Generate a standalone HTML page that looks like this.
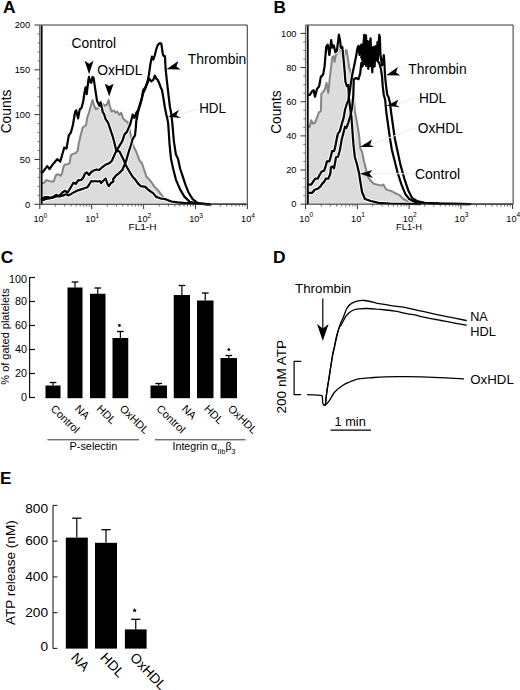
<!DOCTYPE html>
<html><head><meta charset="utf-8"><style>
html,body{margin:0;padding:0;background:#fff;}
svg{display:block;}
text{font-family:"Liberation Sans",sans-serif;}
</style></head><body>
<svg width="520" height="690" viewBox="0 0 520 690">
<rect width="520" height="690" fill="#fff"/>
<polygon points="40.5,204.3 41.8,183.0 43.8,183.1 44.8,181.8 46.6,180.0 48.9,180.9 51.2,181.6 53.5,181.4 54.9,178.2 55.8,175.4 57.7,174.2 59.5,174.9 60.9,175.8 62.3,172.6 63.1,168.0 64.6,164.6 66.9,164.6 69.6,163.1 70.8,155.4 72.3,154.2 75.4,153.1 77.7,150.8 78.5,144.6 79.6,140.0 80.5,136.0 82.6,127.7 86.1,125.0 87.3,117.3 89.0,112.7 90.8,105.8 92.5,100.0 94.2,105.8 96.0,109.2 98.3,108.1 100.6,102.3 102.3,103.5 104.6,105.8 106.9,104.6 108.6,100.0 109.8,105.8 111.5,111.5 113.8,110.4 115.6,112.7 117.3,111.5 119.6,115.0 121.3,112.7 123.1,118.4 125.4,120.8 127.7,121.9 129.0,126.0 130.4,133.1 132.7,144.6 136.2,151.5 139.6,160.7 141.9,163.0 144.2,170.0 146.5,176.9 148.5,178.5 151.5,182.3 154.6,186.9 157.7,190.0 160.8,193.8 163.1,196.9 165.4,198.9 171.5,201.5 180.0,203.0 200.0,203.8 246.0,204.0 246.0,204.3" fill="#dcdcdc" />
<line x1="40" y1="25" x2="247.3" y2="25" stroke="#7a7a7a" stroke-width="1.3"/>
<line x1="247.3" y1="25" x2="247.3" y2="204.3" stroke="#444" stroke-width="1.1"/>
<polyline points="41.8,183.0 43.8,183.1 44.8,181.8 46.6,180.0 48.9,180.9 51.2,181.6 53.5,181.4 54.9,178.2 55.8,175.4 57.7,174.2 59.5,174.9 60.9,175.8 62.3,172.6 63.1,168.0 64.6,164.6 66.9,164.6 69.6,163.1 70.8,155.4 72.3,154.2 75.4,153.1 77.7,150.8 78.5,144.6 79.6,140.0 80.5,136.0 82.6,127.7 86.1,125.0 87.3,117.3 89.0,112.7 90.8,105.8 92.5,100.0 94.2,105.8 96.0,109.2 98.3,108.1 100.6,102.3 102.3,103.5 104.6,105.8 106.9,104.6 108.6,100.0 109.8,105.8 111.5,111.5 113.8,110.4 115.6,112.7 117.3,111.5 119.6,115.0 121.3,112.7 123.1,118.4 125.4,120.8 127.7,121.9 129.0,126.0 130.4,133.1 132.7,144.6 136.2,151.5 139.6,160.7 141.9,163.0 144.2,170.0 146.5,176.9 148.5,178.5 151.5,182.3 154.6,186.9 157.7,190.0 160.8,193.8 163.1,196.9 165.4,198.9 171.5,201.5 180.0,203.0 200.0,203.8 246.0,204.0" fill="none" stroke="#858585" stroke-width="2" stroke-linejoin="round" stroke-linecap="round" />
<polyline points="41.8,199.5 43.5,200.0 45.8,198.8 49.2,198.3 52.7,197.7 56.1,196.5 59.6,196.5 63.1,195.4 66.0,194.2 68.8,195.4 71.7,193.6 74.6,191.9 76.9,190.8 80.4,189.6 83.8,188.5 87.3,187.3 89.6,183.8 91.3,181.0 93.1,181.5 95.4,181.0 97.7,181.5 100.0,181.0 101.1,183.1 103.0,181.0 105.7,178.5 107.5,184.0 108.8,186.2 111.0,183.0 113.4,181.5 113.1,179.2 116.0,175.5 118.8,173.4 122.3,170.0 125.8,161.9 129.2,150.4 131.0,145.0 132.7,138.8 135.0,135.4 135.8,128.0 136.2,121.5 137.5,115.0 138.5,110.0 140.3,104.6 143.2,93.0 145.4,88.6 147.5,81.4 149.0,74.1 150.4,64.0 151.9,56.7 153.3,59.6 154.8,55.3 156.2,49.5 157.7,45.1 159.9,43.0 161.3,43.7 162.8,53.8 163.5,56.0 164.9,56.0 165.7,69.8 167.1,82.8 168.6,95.9 170.0,107.5 171.0,112.0 172.4,123.9 173.8,140.6 175.9,154.6 178.0,158.7 180.1,168.5 182.9,176.9 185.6,185.2 188.4,192.2 192.6,199.1 198.2,203.3 210.0,204.3" fill="none" stroke="#fff" stroke-opacity="0.85" stroke-width="4.2" stroke-linejoin="round"/>
<polyline points="41.8,199.0 43.5,197.7 45.8,197.1 48.1,197.1 50.4,197.7 52.7,197.1 56.1,194.8 59.0,196.0 62.5,192.5 64.8,190.8 67.7,192.5 71.1,186.7 73.4,182.7 75.8,183.8 78.1,180.4 81.5,179.8 83.3,177.5 85.0,173.5 86.7,172.3 89.0,175.0 91.3,172.0 93.5,170.5 96.9,169.5 99.2,170.0 102.7,166.8 106.2,164.4 109.6,163.0 111.9,160.7 115.4,152.7 118.8,146.9 122.3,141.2 124.6,134.2 126.9,131.9 130.4,123.8 132.7,114.6 134.4,118.1 136.5,112.5 138.1,110.4 140.3,103.1 141.7,98.8 143.2,90.1 145.4,87.2 147.5,82.8 149.0,78.5 151.2,81.4 153.3,79.9 154.8,75.6 156.2,78.5 157.7,79.9 159.1,82.8 160.6,87.2 162.0,90.1 163.5,98.8 164.9,107.5 166.4,115.0 167.2,118.0 168.2,123.9 169.6,144.8 171.0,158.7 173.1,168.5 175.9,179.6 180.1,189.4 184.2,196.4 189.8,201.9 196.8,203.6 209.0,204.3" fill="none" stroke="#fff" stroke-opacity="0.85" stroke-width="4.2" stroke-linejoin="round"/>
<polyline points="41.5,172.0 42.6,172.3 47.2,166.2 49.5,169.2 52.6,164.6 57.2,159.2 60.3,161.5 64.2,147.7 66.5,148.5 68.8,135.4 71.0,132.3 72.9,125.0 75.2,111.5 76.3,110.4 78.1,118.4 79.8,109.2 81.5,108.1 83.3,101.1 84.4,93.1 85.6,87.3 86.7,94.2 88.5,79.2 89.0,76.9 90.2,82.1 91.3,82.7 92.5,76.9 93.6,78.1 94.8,86.1 96.0,94.2 97.1,101.1 98.3,103.5 99.4,105.8 100.6,102.3 101.7,106.9 102.9,112.7 104.0,113.8 105.8,119.6 107.0,121.0 108.5,123.8 110.8,130.8 113.1,137.7 114.8,144.6 116.5,151.5 118.2,151.0 119.5,151.5 121.2,155.0 123.5,159.6 125.8,165.3 129.2,171.1 132.7,176.9 135.0,179.2 137.7,183.1 140.8,186.2 145.4,186.9 148.5,190.0 153.1,193.1 156.2,196.9 160.8,198.5 165.4,199.2 171.5,201.5 177.7,202.3 183.8,202.8 200.0,203.7 209.0,204.3" fill="none" stroke="#fff" stroke-opacity="0.85" stroke-width="4.2" stroke-linejoin="round"/>
<polyline points="41.5,172.0 42.6,172.3 47.2,166.2 49.5,169.2 52.6,164.6 57.2,159.2 60.3,161.5 64.2,147.7 66.5,148.5 68.8,135.4 71.0,132.3 72.9,125.0 75.2,111.5 76.3,110.4 78.1,118.4 79.8,109.2 81.5,108.1 83.3,101.1 84.4,93.1 85.6,87.3 86.7,94.2 88.5,79.2 89.0,76.9 90.2,82.1 91.3,82.7 92.5,76.9 93.6,78.1 94.8,86.1 96.0,94.2 97.1,101.1 98.3,103.5 99.4,105.8 100.6,102.3 101.7,106.9 102.9,112.7 104.0,113.8 105.8,119.6 107.0,121.0 108.5,123.8 110.8,130.8 113.1,137.7 114.8,144.6 116.5,151.5 118.2,151.0 119.5,151.5 121.2,155.0 123.5,159.6 125.8,165.3 129.2,171.1 132.7,176.9 135.0,179.2 137.7,183.1 140.8,186.2 145.4,186.9 148.5,190.0 153.1,193.1 156.2,196.9 160.8,198.5 165.4,199.2 171.5,201.5 177.7,202.3 183.8,202.8 200.0,203.7 209.0,204.3" fill="none" stroke="#000" stroke-width="2.2" stroke-linejoin="round" stroke-linecap="round" />
<polyline points="41.8,199.0 43.5,197.7 45.8,197.1 48.1,197.1 50.4,197.7 52.7,197.1 56.1,194.8 59.0,196.0 62.5,192.5 64.8,190.8 67.7,192.5 71.1,186.7 73.4,182.7 75.8,183.8 78.1,180.4 81.5,179.8 83.3,177.5 85.0,173.5 86.7,172.3 89.0,175.0 91.3,172.0 93.5,170.5 96.9,169.5 99.2,170.0 102.7,166.8 106.2,164.4 109.6,163.0 111.9,160.7 115.4,152.7 118.8,146.9 122.3,141.2 124.6,134.2 126.9,131.9 130.4,123.8 132.7,114.6 134.4,118.1 136.5,112.5 138.1,110.4 140.3,103.1 141.7,98.8 143.2,90.1 145.4,87.2 147.5,82.8 149.0,78.5 151.2,81.4 153.3,79.9 154.8,75.6 156.2,78.5 157.7,79.9 159.1,82.8 160.6,87.2 162.0,90.1 163.5,98.8 164.9,107.5 166.4,115.0 167.2,118.0 168.2,123.9 169.6,144.8 171.0,158.7 173.1,168.5 175.9,179.6 180.1,189.4 184.2,196.4 189.8,201.9 196.8,203.6 209.0,204.3" fill="none" stroke="#000" stroke-width="2.2" stroke-linejoin="round" stroke-linecap="round" />
<polyline points="41.8,199.5 43.5,200.0 45.8,198.8 49.2,198.3 52.7,197.7 56.1,196.5 59.6,196.5 63.1,195.4 66.0,194.2 68.8,195.4 71.7,193.6 74.6,191.9 76.9,190.8 80.4,189.6 83.8,188.5 87.3,187.3 89.6,183.8 91.3,181.0 93.1,181.5 95.4,181.0 97.7,181.5 100.0,181.0 101.1,183.1 103.0,181.0 105.7,178.5 107.5,184.0 108.8,186.2 111.0,183.0 113.4,181.5 113.1,179.2 116.0,175.5 118.8,173.4 122.3,170.0 125.8,161.9 129.2,150.4 131.0,145.0 132.7,138.8 135.0,135.4 135.8,128.0 136.2,121.5 137.5,115.0 138.5,110.0 140.3,104.6 143.2,93.0 145.4,88.6 147.5,81.4 149.0,74.1 150.4,64.0 151.9,56.7 153.3,59.6 154.8,55.3 156.2,49.5 157.7,45.1 159.9,43.0 161.3,43.7 162.8,53.8 163.5,56.0 164.9,56.0 165.7,69.8 167.1,82.8 168.6,95.9 170.0,107.5 171.0,112.0 172.4,123.9 173.8,140.6 175.9,154.6 178.0,158.7 180.1,168.5 182.9,176.9 185.6,185.2 188.4,192.2 192.6,199.1 198.2,203.3 210.0,204.3" fill="none" stroke="#000" stroke-width="2.2" stroke-linejoin="round" stroke-linecap="round" />
<line x1="41.6" y1="25.5" x2="41.6" y2="204.3" stroke="#000" stroke-width="1.9"/>
<line x1="39.599999999999994" y1="25" x2="39.599999999999994" y2="204.8" stroke="#555" stroke-width="0.9"/>
<line x1="34.5" y1="204.3" x2="39.8" y2="204.3" stroke="#333" stroke-width="1"/>
<line x1="37.5" y1="195.335" x2="39.8" y2="195.335" stroke="#555" stroke-width="0.8"/>
<line x1="37.5" y1="186.37" x2="39.8" y2="186.37" stroke="#555" stroke-width="0.8"/>
<line x1="37.5" y1="177.405" x2="39.8" y2="177.405" stroke="#555" stroke-width="0.8"/>
<line x1="37.5" y1="168.44" x2="39.8" y2="168.44" stroke="#555" stroke-width="0.8"/>
<line x1="34.5" y1="159.47500000000002" x2="39.8" y2="159.47500000000002" stroke="#333" stroke-width="1"/>
<line x1="37.5" y1="150.51000000000002" x2="39.8" y2="150.51000000000002" stroke="#555" stroke-width="0.8"/>
<line x1="37.5" y1="141.54500000000002" x2="39.8" y2="141.54500000000002" stroke="#555" stroke-width="0.8"/>
<line x1="37.5" y1="132.58" x2="39.8" y2="132.58" stroke="#555" stroke-width="0.8"/>
<line x1="37.5" y1="123.61500000000001" x2="39.8" y2="123.61500000000001" stroke="#555" stroke-width="0.8"/>
<line x1="34.5" y1="114.65" x2="39.8" y2="114.65" stroke="#333" stroke-width="1"/>
<line x1="37.5" y1="105.68500000000002" x2="39.8" y2="105.68500000000002" stroke="#555" stroke-width="0.8"/>
<line x1="37.5" y1="96.72000000000001" x2="39.8" y2="96.72000000000001" stroke="#555" stroke-width="0.8"/>
<line x1="37.5" y1="87.75500000000001" x2="39.8" y2="87.75500000000001" stroke="#555" stroke-width="0.8"/>
<line x1="37.5" y1="78.79" x2="39.8" y2="78.79" stroke="#555" stroke-width="0.8"/>
<line x1="34.5" y1="69.82500000000002" x2="39.8" y2="69.82500000000002" stroke="#333" stroke-width="1"/>
<line x1="37.5" y1="60.860000000000014" x2="39.8" y2="60.860000000000014" stroke="#555" stroke-width="0.8"/>
<line x1="37.5" y1="51.89499999999998" x2="39.8" y2="51.89499999999998" stroke="#555" stroke-width="0.8"/>
<line x1="37.5" y1="42.93000000000001" x2="39.8" y2="42.93000000000001" stroke="#555" stroke-width="0.8"/>
<line x1="37.5" y1="33.965" x2="39.8" y2="33.965" stroke="#555" stroke-width="0.8"/>
<line x1="34.5" y1="25.0" x2="39.8" y2="25.0" stroke="#333" stroke-width="1"/>
<text x="30.2" y="207.5" font-size="9.3" text-anchor="end" font-weight="normal" fill="#000" >0</text>
<text x="30.2" y="162.675" font-size="9.3" text-anchor="end" font-weight="normal" fill="#000" >50</text>
<text x="30.2" y="117.85000000000001" font-size="9.3" text-anchor="end" font-weight="normal" fill="#000" >100</text>
<text x="30.2" y="73.02500000000002" font-size="9.3" text-anchor="end" font-weight="normal" fill="#000" >150</text>
<text x="30.2" y="28.2" font-size="9.3" text-anchor="end" font-weight="normal" fill="#000" >200</text>
<line x1="39.8" y1="204.3" x2="247.3" y2="204.3" stroke="#333" stroke-width="1"/>
<line x1="39.8" y1="204.3" x2="39.8" y2="209" stroke="#333" stroke-width="1"/>
<line x1="55.42345677496062" y1="204.3" x2="55.42345677496062" y2="206.5" stroke="#444" stroke-width="0.8"/>
<line x1="64.56259311995048" y1="204.3" x2="64.56259311995048" y2="206.5" stroke="#444" stroke-width="0.8"/>
<line x1="71.04691354992124" y1="204.3" x2="71.04691354992124" y2="206.5" stroke="#444" stroke-width="0.8"/>
<line x1="76.07654322503937" y1="204.3" x2="76.07654322503937" y2="206.5" stroke="#444" stroke-width="0.8"/>
<line x1="80.1860498949111" y1="204.3" x2="80.1860498949111" y2="206.5" stroke="#444" stroke-width="0.8"/>
<line x1="83.66058827673993" y1="204.3" x2="83.66058827673993" y2="206.5" stroke="#444" stroke-width="0.8"/>
<line x1="86.67037032488187" y1="204.3" x2="86.67037032488187" y2="206.5" stroke="#444" stroke-width="0.8"/>
<line x1="89.32518623990096" y1="204.3" x2="89.32518623990096" y2="206.5" stroke="#444" stroke-width="0.8"/>
<line x1="91.69999999999999" y1="204.3" x2="91.69999999999999" y2="209" stroke="#333" stroke-width="1"/>
<line x1="107.32345677496062" y1="204.3" x2="107.32345677496062" y2="206.5" stroke="#444" stroke-width="0.8"/>
<line x1="116.46259311995047" y1="204.3" x2="116.46259311995047" y2="206.5" stroke="#444" stroke-width="0.8"/>
<line x1="122.94691354992125" y1="204.3" x2="122.94691354992125" y2="206.5" stroke="#444" stroke-width="0.8"/>
<line x1="127.97654322503936" y1="204.3" x2="127.97654322503936" y2="206.5" stroke="#444" stroke-width="0.8"/>
<line x1="132.0860498949111" y1="204.3" x2="132.0860498949111" y2="206.5" stroke="#444" stroke-width="0.8"/>
<line x1="135.56058827673994" y1="204.3" x2="135.56058827673994" y2="206.5" stroke="#444" stroke-width="0.8"/>
<line x1="138.57037032488188" y1="204.3" x2="138.57037032488188" y2="206.5" stroke="#444" stroke-width="0.8"/>
<line x1="141.22518623990095" y1="204.3" x2="141.22518623990095" y2="206.5" stroke="#444" stroke-width="0.8"/>
<line x1="143.6" y1="204.3" x2="143.6" y2="209" stroke="#333" stroke-width="1"/>
<line x1="159.22345677496062" y1="204.3" x2="159.22345677496062" y2="206.5" stroke="#444" stroke-width="0.8"/>
<line x1="168.36259311995047" y1="204.3" x2="168.36259311995047" y2="206.5" stroke="#444" stroke-width="0.8"/>
<line x1="174.84691354992123" y1="204.3" x2="174.84691354992123" y2="206.5" stroke="#444" stroke-width="0.8"/>
<line x1="179.87654322503937" y1="204.3" x2="179.87654322503937" y2="206.5" stroke="#444" stroke-width="0.8"/>
<line x1="183.9860498949111" y1="204.3" x2="183.9860498949111" y2="206.5" stroke="#444" stroke-width="0.8"/>
<line x1="187.46058827673994" y1="204.3" x2="187.46058827673994" y2="206.5" stroke="#444" stroke-width="0.8"/>
<line x1="190.47037032488186" y1="204.3" x2="190.47037032488186" y2="206.5" stroke="#444" stroke-width="0.8"/>
<line x1="193.12518623990093" y1="204.3" x2="193.12518623990093" y2="206.5" stroke="#444" stroke-width="0.8"/>
<line x1="195.5" y1="204.3" x2="195.5" y2="209" stroke="#333" stroke-width="1"/>
<line x1="211.12345677496063" y1="204.3" x2="211.12345677496063" y2="206.5" stroke="#444" stroke-width="0.8"/>
<line x1="220.2625931199505" y1="204.3" x2="220.2625931199505" y2="206.5" stroke="#444" stroke-width="0.8"/>
<line x1="226.74691354992126" y1="204.3" x2="226.74691354992126" y2="206.5" stroke="#444" stroke-width="0.8"/>
<line x1="231.77654322503935" y1="204.3" x2="231.77654322503935" y2="206.5" stroke="#444" stroke-width="0.8"/>
<line x1="235.88604989491108" y1="204.3" x2="235.88604989491108" y2="206.5" stroke="#444" stroke-width="0.8"/>
<line x1="239.36058827673992" y1="204.3" x2="239.36058827673992" y2="206.5" stroke="#444" stroke-width="0.8"/>
<line x1="242.3703703248819" y1="204.3" x2="242.3703703248819" y2="206.5" stroke="#444" stroke-width="0.8"/>
<line x1="245.02518623990096" y1="204.3" x2="245.02518623990096" y2="206.5" stroke="#444" stroke-width="0.8"/>
<line x1="247.39999999999998" y1="204.3" x2="247.39999999999998" y2="209" stroke="#333" stroke-width="1"/>
<text x="43.699999999999996" y="221.8" font-size="9.2" text-anchor="end" font-weight="normal" fill="#000" >10</text>
<text x="43.599999999999994" y="217.6" font-size="6.6" text-anchor="start" font-weight="normal" fill="#000" >0</text>
<text x="95.6" y="221.8" font-size="9.2" text-anchor="end" font-weight="normal" fill="#000" >10</text>
<text x="95.49999999999999" y="217.6" font-size="6.6" text-anchor="start" font-weight="normal" fill="#000" >1</text>
<text x="147.5" y="221.8" font-size="9.2" text-anchor="end" font-weight="normal" fill="#000" >10</text>
<text x="147.4" y="217.6" font-size="6.6" text-anchor="start" font-weight="normal" fill="#000" >2</text>
<text x="199.4" y="221.8" font-size="9.2" text-anchor="end" font-weight="normal" fill="#000" >10</text>
<text x="199.3" y="217.6" font-size="6.6" text-anchor="start" font-weight="normal" fill="#000" >3</text>
<text x="251.29999999999998" y="221.8" font-size="9.2" text-anchor="end" font-weight="normal" fill="#000" >10</text>
<text x="251.2" y="217.6" font-size="6.6" text-anchor="start" font-weight="normal" fill="#000" >4</text>
<text x="128.5" y="230.3" font-size="8.6" text-anchor="start" font-weight="normal" fill="#000" textLength="28" lengthAdjust="spacingAndGlyphs" >FL1-H</text>
<text x="0" y="0" font-size="13.8" text-anchor="middle" font-weight="normal" fill="#000" textLength="43.7" lengthAdjust="spacingAndGlyphs" transform="translate(11.2,111.5) rotate(-90)">Counts</text>
<text x="71.5" y="48.2" font-size="13.8" text-anchor="start" font-weight="normal" fill="#000" textLength="44.6" lengthAdjust="spacingAndGlyphs" >Control</text>
<text x="97.2" y="74.9" font-size="13.8" text-anchor="start" font-weight="normal" fill="#000" textLength="45.3" lengthAdjust="spacingAndGlyphs" >OxHDL</text>
<text x="187.7" y="64.2" font-size="13.8" text-anchor="start" font-weight="normal" fill="#000" textLength="58.6" lengthAdjust="spacingAndGlyphs" >Thrombin</text>
<text x="199.2" y="113.1" font-size="13.8" text-anchor="start" font-weight="normal" fill="#000" textLength="26.8" lengthAdjust="spacingAndGlyphs" >HDL</text>
<text x="3.0" y="12.7" font-size="17.4" text-anchor="start" font-weight="bold" fill="#000" >A</text>
<polygon points="89.1,74.2 84.6,60.7 89.1,63.7 93.5,60.7" fill="#000" />
<polygon points="109.2,96.6 104.8,83.7 109.2,86.0 113.6,83.7" fill="#000" />
<line x1="176.4" y1="66.5" x2="186" y2="62" stroke="#ececec" stroke-width="1"/>
<polygon points="166.5,69.3 178.3,61.1 176.4,66.5 180.7,69.5" fill="#000" />
<line x1="176.29999999999998" y1="115.2" x2="198" y2="109" stroke="#ececec" stroke-width="1"/>
<polygon points="168.2,116.8 179.0,109.8 176.3,115.2 181.2,117.9" fill="#000" />
<polygon points="306.0,204.2 308.0,127.0 309.8,126.7 311.1,120.2 313.0,123.5 315.0,122.8 317.0,117.6 318.9,112.4 320.9,111.1 321.3,94.2 323.1,91.9 324.8,89.6 326.5,82.7 328.3,93.0 330.0,75.8 332.3,57.3 334.0,56.2 334.6,61.9 335.8,55.0 338.1,51.5 339.8,48.1 341.0,49.0 342.3,56.9 343.8,58.5 345.4,50.8 346.6,50.0 347.7,56.9 349.2,67.7 350.8,72.3 352.3,84.6 353.8,92.3 354.8,111.1 357.4,124.1 359.3,137.2 360.2,148.0 362.1,151.9 364.0,161.5 366.0,169.2 367.9,176.9 370.8,180.8 373.7,183.7 377.5,184.6 380.4,185.6 383.3,184.6 386.2,189.4 389.0,190.4 391.9,191.3 395.8,193.3 399.6,195.2 403.5,199.0 407.3,201.0 413.0,202.9 430.0,203.8 512.0,204.0 512.0,204.2" fill="#dcdcdc" />
<line x1="305.6" y1="25" x2="513.1" y2="25" stroke="#7a7a7a" stroke-width="1.3"/>
<line x1="513.1" y1="25" x2="513.1" y2="204.2" stroke="#444" stroke-width="1.1"/>
<polyline points="308.0,127.0 309.8,126.7 311.1,120.2 313.0,123.5 315.0,122.8 317.0,117.6 318.9,112.4 320.9,111.1 321.3,94.2 323.1,91.9 324.8,89.6 326.5,82.7 328.3,93.0 330.0,75.8 332.3,57.3 334.0,56.2 334.6,61.9 335.8,55.0 338.1,51.5 339.8,48.1 341.0,49.0 342.3,56.9 343.8,58.5 345.4,50.8 346.6,50.0 347.7,56.9 349.2,67.7 350.8,72.3 352.3,84.6 353.8,92.3 354.8,111.1 357.4,124.1 359.3,137.2 360.2,148.0 362.1,151.9 364.0,161.5 366.0,169.2 367.9,176.9 370.8,180.8 373.7,183.7 377.5,184.6 380.4,185.6 383.3,184.6 386.2,189.4 389.0,190.4 391.9,191.3 395.8,193.3 399.6,195.2 403.5,199.0 407.3,201.0 413.0,202.9 430.0,203.8 512.0,204.0" fill="none" stroke="#858585" stroke-width="2" stroke-linejoin="round" stroke-linecap="round" />
<polyline points="308.0,192.8 312.2,192.8 314.7,189.7 317.8,188.7 320.3,186.7 322.3,183.6 324.3,181.6 325.9,178.6 328.4,178.6 330.4,173.5 330.9,167.4 332.5,166.4 334.0,168.4 335.0,163.3 336.0,157.2 338.0,156.7 339.6,151.2 340.6,146.1 341.6,140.0 343.0,134.6 345.0,126.7 346.3,128.0 348.3,122.8 350.2,116.3 352.2,107.2 353.3,95.0 353.8,79.2 356.1,78.0 358.5,79.2 360.2,73.4 361.3,63.0 362.5,66.5 363.2,52.0 364.0,64.2 365.0,48.0 366.2,66.0 367.2,50.0 368.3,68.8 369.3,52.0 370.3,66.0 371.2,55.0 372.3,72.3 373.2,56.0 374.6,66.5 375.5,46.0 376.5,60.0 377.5,42.0 378.0,59.6 379.2,34.8 379.8,36.5 380.4,53.8 381.5,61.9 382.1,65.4 383.3,59.6 383.8,55.0 384.4,63.0 385.0,75.7 386.1,86.1 387.3,95.0 388.5,97.0 390.0,103.1 391.0,111.5 392.9,125.0 394.8,138.5 397.7,151.9 400.6,165.4 404.4,178.8 408.3,190.4 412.1,198.0 416.9,201.0 424.6,202.9 440.0,203.6 470.0,204.2" fill="none" stroke="#fff" stroke-opacity="0.85" stroke-width="4.2" stroke-linejoin="round"/>
<polyline points="308.0,184.6 311.2,184.6 313.2,181.6 315.2,178.6 317.8,178.6 319.8,174.5 321.8,171.4 324.3,170.4 325.9,165.4 326.9,161.3 329.4,161.3 330.9,156.2 332.0,151.2 334.0,151.2 335.0,148.1 336.5,140.0 337.8,133.9 339.8,131.3 341.7,124.1 343.7,117.6 345.0,109.8 347.0,103.3 348.3,100.7 349.6,92.8 350.9,83.0 352.6,73.0 354.3,65.2 356.1,56.1 357.5,48.0 358.5,45.8 359.5,55.0 360.5,47.0 361.3,44.6 362.2,60.0 363.0,50.0 364.2,34.8 365.0,52.0 366.0,35.4 367.0,58.0 367.7,41.1 368.5,62.0 369.5,45.0 370.6,38.3 371.5,60.0 372.5,50.0 373.4,46.9 374.2,62.0 375.3,48.0 376.3,59.6 377.5,61.0 379.2,63.0 380.9,68.8 382.1,76.9 382.7,86.1 383.8,95.0 385.2,100.0 386.2,111.5 388.1,125.0 390.0,138.5 391.9,150.0 394.8,161.5 397.7,173.0 401.5,184.6 405.4,194.2 409.2,199.0 415.0,201.9 422.7,202.9 440.0,203.6 468.0,204.2" fill="none" stroke="#fff" stroke-opacity="0.85" stroke-width="4.2" stroke-linejoin="round"/>
<polyline points="308.0,95.0 309.8,94.8 312.4,90.9 313.7,90.2 315.0,96.7 317.0,88.9 319.2,86.2 320.8,76.9 323.1,74.6 324.6,66.2 326.2,46.9 327.7,44.6 329.4,55.0 331.2,40.0 332.3,47.7 333.8,45.4 335.4,52.3 336.9,50.8 338.9,34.6 340.0,40.0 340.8,47.7 342.3,46.9 343.8,61.5 344.6,70.8 345.4,81.5 346.9,86.2 348.3,85.0 348.9,98.0 350.2,108.5 351.5,117.6 352.5,132.0 353.5,145.0 354.8,156.7 357.4,165.9 359.2,174.0 360.2,180.8 362.1,192.3 365.0,199.0 370.8,201.0 378.5,202.9 390.0,203.5 420.0,204.2" fill="none" stroke="#fff" stroke-opacity="0.85" stroke-width="4.2" stroke-linejoin="round"/>
<polyline points="308.0,95.0 309.8,94.8 312.4,90.9 313.7,90.2 315.0,96.7 317.0,88.9 319.2,86.2 320.8,76.9 323.1,74.6 324.6,66.2 326.2,46.9 327.7,44.6 329.4,55.0 331.2,40.0 332.3,47.7 333.8,45.4 335.4,52.3 336.9,50.8 338.9,34.6 340.0,40.0 340.8,47.7 342.3,46.9 343.8,61.5 344.6,70.8 345.4,81.5 346.9,86.2 348.3,85.0 348.9,98.0 350.2,108.5 351.5,117.6 352.5,132.0 353.5,145.0 354.8,156.7 357.4,165.9 359.2,174.0 360.2,180.8 362.1,192.3 365.0,199.0 370.8,201.0 378.5,202.9 390.0,203.5 420.0,204.2" fill="none" stroke="#000" stroke-width="2.2" stroke-linejoin="round" stroke-linecap="round" />
<polyline points="308.0,184.6 311.2,184.6 313.2,181.6 315.2,178.6 317.8,178.6 319.8,174.5 321.8,171.4 324.3,170.4 325.9,165.4 326.9,161.3 329.4,161.3 330.9,156.2 332.0,151.2 334.0,151.2 335.0,148.1 336.5,140.0 337.8,133.9 339.8,131.3 341.7,124.1 343.7,117.6 345.0,109.8 347.0,103.3 348.3,100.7 349.6,92.8 350.9,83.0 352.6,73.0 354.3,65.2 356.1,56.1 357.5,48.0 358.5,45.8 359.5,55.0 360.5,47.0 361.3,44.6 362.2,60.0 363.0,50.0 364.2,34.8 365.0,52.0 366.0,35.4 367.0,58.0 367.7,41.1 368.5,62.0 369.5,45.0 370.6,38.3 371.5,60.0 372.5,50.0 373.4,46.9 374.2,62.0 375.3,48.0 376.3,59.6 377.5,61.0 379.2,63.0 380.9,68.8 382.1,76.9 382.7,86.1 383.8,95.0 385.2,100.0 386.2,111.5 388.1,125.0 390.0,138.5 391.9,150.0 394.8,161.5 397.7,173.0 401.5,184.6 405.4,194.2 409.2,199.0 415.0,201.9 422.7,202.9 440.0,203.6 468.0,204.2" fill="none" stroke="#000" stroke-width="2.2" stroke-linejoin="round" stroke-linecap="round" />
<polyline points="308.0,192.8 312.2,192.8 314.7,189.7 317.8,188.7 320.3,186.7 322.3,183.6 324.3,181.6 325.9,178.6 328.4,178.6 330.4,173.5 330.9,167.4 332.5,166.4 334.0,168.4 335.0,163.3 336.0,157.2 338.0,156.7 339.6,151.2 340.6,146.1 341.6,140.0 343.0,134.6 345.0,126.7 346.3,128.0 348.3,122.8 350.2,116.3 352.2,107.2 353.3,95.0 353.8,79.2 356.1,78.0 358.5,79.2 360.2,73.4 361.3,63.0 362.5,66.5 363.2,52.0 364.0,64.2 365.0,48.0 366.2,66.0 367.2,50.0 368.3,68.8 369.3,52.0 370.3,66.0 371.2,55.0 372.3,72.3 373.2,56.0 374.6,66.5 375.5,46.0 376.5,60.0 377.5,42.0 378.0,59.6 379.2,34.8 379.8,36.5 380.4,53.8 381.5,61.9 382.1,65.4 383.3,59.6 383.8,55.0 384.4,63.0 385.0,75.7 386.1,86.1 387.3,95.0 388.5,97.0 390.0,103.1 391.0,111.5 392.9,125.0 394.8,138.5 397.7,151.9 400.6,165.4 404.4,178.8 408.3,190.4 412.1,198.0 416.9,201.0 424.6,202.9 440.0,203.6 470.0,204.2" fill="none" stroke="#000" stroke-width="2.2" stroke-linejoin="round" stroke-linecap="round" />
<polygon points="360.0,58.0 362.0,50.0 366.0,46.0 370.0,44.0 374.0,50.0 377.0,50.0 376.0,58.0 372.0,64.0 368.0,62.0 364.0,60.0" fill="#000" />
<line x1="307.7" y1="25.5" x2="307.8" y2="204.2" stroke="#000" stroke-width="1.9"/>
<line x1="305.40000000000003" y1="25" x2="305.40000000000003" y2="204.7" stroke="#555" stroke-width="0.9"/>
<line x1="300.5" y1="204.2" x2="305.6" y2="204.2" stroke="#333" stroke-width="1"/>
<line x1="303.3" y1="195.66" x2="305.6" y2="195.66" stroke="#555" stroke-width="0.8"/>
<line x1="303.3" y1="187.12" x2="305.6" y2="187.12" stroke="#555" stroke-width="0.8"/>
<line x1="303.3" y1="178.57999999999998" x2="305.6" y2="178.57999999999998" stroke="#555" stroke-width="0.8"/>
<line x1="300.5" y1="170.04" x2="305.6" y2="170.04" stroke="#333" stroke-width="1"/>
<line x1="303.3" y1="161.5" x2="305.6" y2="161.5" stroke="#555" stroke-width="0.8"/>
<line x1="303.3" y1="152.96" x2="305.6" y2="152.96" stroke="#555" stroke-width="0.8"/>
<line x1="303.3" y1="144.42" x2="305.6" y2="144.42" stroke="#555" stroke-width="0.8"/>
<line x1="300.5" y1="135.88" x2="305.6" y2="135.88" stroke="#333" stroke-width="1"/>
<line x1="303.3" y1="127.34" x2="305.6" y2="127.34" stroke="#555" stroke-width="0.8"/>
<line x1="303.3" y1="118.79999999999998" x2="305.6" y2="118.79999999999998" stroke="#555" stroke-width="0.8"/>
<line x1="303.3" y1="110.26" x2="305.6" y2="110.26" stroke="#555" stroke-width="0.8"/>
<line x1="300.5" y1="101.72000000000001" x2="305.6" y2="101.72000000000001" stroke="#333" stroke-width="1"/>
<line x1="303.3" y1="93.18" x2="305.6" y2="93.18" stroke="#555" stroke-width="0.8"/>
<line x1="303.3" y1="84.64" x2="305.6" y2="84.64" stroke="#555" stroke-width="0.8"/>
<line x1="303.3" y1="76.1" x2="305.6" y2="76.1" stroke="#555" stroke-width="0.8"/>
<line x1="300.5" y1="67.56" x2="305.6" y2="67.56" stroke="#333" stroke-width="1"/>
<line x1="303.3" y1="59.02000000000001" x2="305.6" y2="59.02000000000001" stroke="#555" stroke-width="0.8"/>
<line x1="303.3" y1="50.48000000000002" x2="305.6" y2="50.48000000000002" stroke="#555" stroke-width="0.8"/>
<line x1="303.3" y1="41.94" x2="305.6" y2="41.94" stroke="#555" stroke-width="0.8"/>
<line x1="300.5" y1="33.39999999999998" x2="305.6" y2="33.39999999999998" stroke="#333" stroke-width="1"/>
<text x="296.5" y="207.39999999999998" font-size="9.3" text-anchor="end" font-weight="normal" fill="#000" >0</text>
<text x="296.5" y="173.23999999999998" font-size="9.3" text-anchor="end" font-weight="normal" fill="#000" >20</text>
<text x="296.5" y="139.07999999999998" font-size="9.3" text-anchor="end" font-weight="normal" fill="#000" >40</text>
<text x="296.5" y="104.92000000000002" font-size="9.3" text-anchor="end" font-weight="normal" fill="#000" >60</text>
<text x="296.5" y="70.76" font-size="9.3" text-anchor="end" font-weight="normal" fill="#000" >80</text>
<text x="296.5" y="36.59999999999998" font-size="9.3" text-anchor="end" font-weight="normal" fill="#000" >100</text>
<line x1="305.6" y1="204.2" x2="513.1" y2="204.2" stroke="#333" stroke-width="1"/>
<line x1="305.6" y1="204.2" x2="305.6" y2="209" stroke="#333" stroke-width="1"/>
<line x1="321.17830227561103" y1="204.2" x2="321.17830227561103" y2="206.5" stroke="#444" stroke-width="0.8"/>
<line x1="330.2910249317425" y1="204.2" x2="330.2910249317425" y2="206.5" stroke="#444" stroke-width="0.8"/>
<line x1="336.7566045512221" y1="204.2" x2="336.7566045512221" y2="206.5" stroke="#444" stroke-width="0.8"/>
<line x1="341.771697724389" y1="204.2" x2="341.771697724389" y2="206.5" stroke="#444" stroke-width="0.8"/>
<line x1="345.8693272073536" y1="204.2" x2="345.8693272073536" y2="206.5" stroke="#444" stroke-width="0.8"/>
<line x1="349.3338235707378" y1="204.2" x2="349.3338235707378" y2="206.5" stroke="#444" stroke-width="0.8"/>
<line x1="352.3349068268331" y1="204.2" x2="352.3349068268331" y2="206.5" stroke="#444" stroke-width="0.8"/>
<line x1="354.9820498634851" y1="204.2" x2="354.9820498634851" y2="206.5" stroke="#444" stroke-width="0.8"/>
<line x1="357.35" y1="204.2" x2="357.35" y2="209" stroke="#333" stroke-width="1"/>
<line x1="372.92830227561103" y1="204.2" x2="372.92830227561103" y2="206.5" stroke="#444" stroke-width="0.8"/>
<line x1="382.0410249317425" y1="204.2" x2="382.0410249317425" y2="206.5" stroke="#444" stroke-width="0.8"/>
<line x1="388.5066045512221" y1="204.2" x2="388.5066045512221" y2="206.5" stroke="#444" stroke-width="0.8"/>
<line x1="393.521697724389" y1="204.2" x2="393.521697724389" y2="206.5" stroke="#444" stroke-width="0.8"/>
<line x1="397.6193272073536" y1="204.2" x2="397.6193272073536" y2="206.5" stroke="#444" stroke-width="0.8"/>
<line x1="401.0838235707378" y1="204.2" x2="401.0838235707378" y2="206.5" stroke="#444" stroke-width="0.8"/>
<line x1="404.0849068268331" y1="204.2" x2="404.0849068268331" y2="206.5" stroke="#444" stroke-width="0.8"/>
<line x1="406.7320498634851" y1="204.2" x2="406.7320498634851" y2="206.5" stroke="#444" stroke-width="0.8"/>
<line x1="409.1" y1="204.2" x2="409.1" y2="209" stroke="#333" stroke-width="1"/>
<line x1="424.67830227561103" y1="204.2" x2="424.67830227561103" y2="206.5" stroke="#444" stroke-width="0.8"/>
<line x1="433.7910249317425" y1="204.2" x2="433.7910249317425" y2="206.5" stroke="#444" stroke-width="0.8"/>
<line x1="440.2566045512221" y1="204.2" x2="440.2566045512221" y2="206.5" stroke="#444" stroke-width="0.8"/>
<line x1="445.271697724389" y1="204.2" x2="445.271697724389" y2="206.5" stroke="#444" stroke-width="0.8"/>
<line x1="449.3693272073536" y1="204.2" x2="449.3693272073536" y2="206.5" stroke="#444" stroke-width="0.8"/>
<line x1="452.8338235707378" y1="204.2" x2="452.8338235707378" y2="206.5" stroke="#444" stroke-width="0.8"/>
<line x1="455.8349068268331" y1="204.2" x2="455.8349068268331" y2="206.5" stroke="#444" stroke-width="0.8"/>
<line x1="458.4820498634851" y1="204.2" x2="458.4820498634851" y2="206.5" stroke="#444" stroke-width="0.8"/>
<line x1="460.85" y1="204.2" x2="460.85" y2="209" stroke="#333" stroke-width="1"/>
<line x1="476.42830227561103" y1="204.2" x2="476.42830227561103" y2="206.5" stroke="#444" stroke-width="0.8"/>
<line x1="485.5410249317425" y1="204.2" x2="485.5410249317425" y2="206.5" stroke="#444" stroke-width="0.8"/>
<line x1="492.0066045512221" y1="204.2" x2="492.0066045512221" y2="206.5" stroke="#444" stroke-width="0.8"/>
<line x1="497.021697724389" y1="204.2" x2="497.021697724389" y2="206.5" stroke="#444" stroke-width="0.8"/>
<line x1="501.1193272073536" y1="204.2" x2="501.1193272073536" y2="206.5" stroke="#444" stroke-width="0.8"/>
<line x1="504.5838235707378" y1="204.2" x2="504.5838235707378" y2="206.5" stroke="#444" stroke-width="0.8"/>
<line x1="507.5849068268331" y1="204.2" x2="507.5849068268331" y2="206.5" stroke="#444" stroke-width="0.8"/>
<line x1="510.2320498634851" y1="204.2" x2="510.2320498634851" y2="206.5" stroke="#444" stroke-width="0.8"/>
<line x1="512.6" y1="204.2" x2="512.6" y2="209" stroke="#333" stroke-width="1"/>
<text x="309.5" y="221.6" font-size="9.2" text-anchor="end" font-weight="normal" fill="#000" >10</text>
<text x="309.40000000000003" y="217.4" font-size="6.6" text-anchor="start" font-weight="normal" fill="#000" >0</text>
<text x="361.25" y="221.6" font-size="9.2" text-anchor="end" font-weight="normal" fill="#000" >10</text>
<text x="361.15000000000003" y="217.4" font-size="6.6" text-anchor="start" font-weight="normal" fill="#000" >1</text>
<text x="413.0" y="221.6" font-size="9.2" text-anchor="end" font-weight="normal" fill="#000" >10</text>
<text x="412.90000000000003" y="217.4" font-size="6.6" text-anchor="start" font-weight="normal" fill="#000" >2</text>
<text x="464.75" y="221.6" font-size="9.2" text-anchor="end" font-weight="normal" fill="#000" >10</text>
<text x="464.65000000000003" y="217.4" font-size="6.6" text-anchor="start" font-weight="normal" fill="#000" >3</text>
<text x="516.5" y="221.6" font-size="9.2" text-anchor="end" font-weight="normal" fill="#000" >10</text>
<text x="516.4" y="217.4" font-size="6.6" text-anchor="start" font-weight="normal" fill="#000" >4</text>
<text x="396" y="230.3" font-size="8.6" text-anchor="start" font-weight="normal" fill="#000" textLength="26" lengthAdjust="spacingAndGlyphs" >FL1-H</text>
<text x="0" y="0" font-size="13.8" text-anchor="middle" font-weight="normal" fill="#000" textLength="43.5" lengthAdjust="spacingAndGlyphs" transform="translate(280.7,112.1) rotate(-90)">Counts</text>
<text x="273.4" y="12.7" font-size="17.2" text-anchor="start" font-weight="bold" fill="#000" >B</text>
<text x="408.3" y="73.8" font-size="13.8" text-anchor="start" font-weight="normal" fill="#000" textLength="58.3" lengthAdjust="spacingAndGlyphs" >Thrombin</text>
<text x="418.9" y="102.6" font-size="13.8" text-anchor="start" font-weight="normal" fill="#000" textLength="27.3" lengthAdjust="spacingAndGlyphs" >HDL</text>
<text x="417.8" y="132.6" font-size="13.8" text-anchor="start" font-weight="normal" fill="#000" textLength="45" lengthAdjust="spacingAndGlyphs" >OxHDL</text>
<text x="415" y="179.3" font-size="13.8" text-anchor="start" font-weight="normal" fill="#000" textLength="45" lengthAdjust="spacingAndGlyphs" >Control</text>
<line x1="396.0" y1="72.4" x2="406" y2="66" stroke="#ececec" stroke-width="1"/>
<polygon points="386.1,75.2 397.9,67.0 396.0,72.4 400.3,75.4" fill="#000" />
<line x1="396.0" y1="104.89999999999999" x2="416" y2="97" stroke="#ececec" stroke-width="1"/>
<polygon points="386.6,105.8 398.3,99.7 396.0,104.9 400.2,107.2" fill="#000" />
<line x1="370" y1="145.0" x2="415" y2="128" stroke="#ececec" stroke-width="1"/>
<polygon points="360.0,146.9 371.9,139.4 370.0,145.0 374.4,146.9" fill="#000" />
<line x1="369.4" y1="173.75" x2="413" y2="173.75" stroke="#ececec" stroke-width="1"/>
<polygon points="360.0,173.8 372.5,170.0 369.4,173.8 373.1,178.1" fill="#000" />
<text x="0.8" y="263.2" font-size="17.4" text-anchor="start" font-weight="bold" fill="#000" >C</text>
<line x1="29.6" y1="277.3" x2="29.6" y2="398" stroke="#111" stroke-width="1.2"/>
<line x1="29.6" y1="397.5" x2="35.0" y2="397.5" stroke="#111" stroke-width="1.2"/>
<text x="26.9" y="401.3" font-size="10.8" text-anchor="end" font-weight="normal" fill="#000" >0</text>
<line x1="29.6" y1="373.5" x2="35.0" y2="373.5" stroke="#111" stroke-width="1.2"/>
<text x="26.9" y="377.3" font-size="10.8" text-anchor="end" font-weight="normal" fill="#000" >20</text>
<line x1="29.6" y1="349.5" x2="35.0" y2="349.5" stroke="#111" stroke-width="1.2"/>
<text x="26.9" y="353.3" font-size="10.8" text-anchor="end" font-weight="normal" fill="#000" >40</text>
<line x1="29.6" y1="325.5" x2="35.0" y2="325.5" stroke="#111" stroke-width="1.2"/>
<text x="26.9" y="329.3" font-size="10.8" text-anchor="end" font-weight="normal" fill="#000" >60</text>
<line x1="29.6" y1="301.5" x2="35.0" y2="301.5" stroke="#111" stroke-width="1.2"/>
<text x="26.9" y="305.3" font-size="10.8" text-anchor="end" font-weight="normal" fill="#000" >80</text>
<line x1="29.6" y1="277.5" x2="35.0" y2="277.5" stroke="#111" stroke-width="1.2"/>
<text x="26.9" y="282.5" font-size="10.8" text-anchor="end" font-weight="normal" fill="#000" >100</text>
<text x="0" y="0" font-size="10.9" text-anchor="middle" font-weight="normal" fill="#000" textLength="96.3" lengthAdjust="spacingAndGlyphs" transform="translate(8.7,336.5) rotate(-90)">% of gated platelets</text>
<line x1="53.0" y1="382.5" x2="53.0" y2="385.5" stroke="#000" stroke-width="1.2"/>
<line x1="49.65" y1="382.5" x2="56.35" y2="382.5" stroke="#000" stroke-width="1.3"/>
<rect x="45.5" y="385.5" width="15.0" height="12.699999999999989" fill="#000"/>
<line x1="75.0" y1="282" x2="75.0" y2="287.5" stroke="#000" stroke-width="1.2"/>
<line x1="71.65" y1="282" x2="78.35" y2="282" stroke="#000" stroke-width="1.3"/>
<rect x="67.5" y="287.5" width="15.0" height="110.69999999999999" fill="#000"/>
<line x1="97.75" y1="288" x2="97.75" y2="293.75" stroke="#000" stroke-width="1.2"/>
<line x1="94.4" y1="288" x2="101.1" y2="288" stroke="#000" stroke-width="1.3"/>
<rect x="90" y="293.75" width="15.5" height="104.44999999999999" fill="#000"/>
<line x1="120.375" y1="331.5" x2="120.375" y2="338" stroke="#000" stroke-width="1.2"/>
<line x1="117.025" y1="331.5" x2="123.725" y2="331.5" stroke="#000" stroke-width="1.3"/>
<rect x="112.5" y="338" width="15.75" height="60.19999999999999" fill="#000"/>
<line x1="158.75" y1="383.5" x2="158.75" y2="385.5" stroke="#000" stroke-width="1.2"/>
<line x1="155.4" y1="383.5" x2="162.1" y2="383.5" stroke="#000" stroke-width="1.3"/>
<rect x="150.5" y="385.5" width="16.5" height="12.699999999999989" fill="#000"/>
<line x1="181.875" y1="285.5" x2="181.875" y2="295" stroke="#000" stroke-width="1.2"/>
<line x1="178.525" y1="285.5" x2="185.225" y2="285.5" stroke="#000" stroke-width="1.3"/>
<rect x="173.75" y="295" width="16.25" height="103.19999999999999" fill="#000"/>
<line x1="205.25" y1="293" x2="205.25" y2="300.5" stroke="#000" stroke-width="1.2"/>
<line x1="201.9" y1="293" x2="208.6" y2="293" stroke="#000" stroke-width="1.3"/>
<rect x="197" y="300.5" width="16.5" height="97.69999999999999" fill="#000"/>
<line x1="228.75" y1="355.5" x2="228.75" y2="358" stroke="#000" stroke-width="1.2"/>
<line x1="225.4" y1="355.5" x2="232.1" y2="355.5" stroke="#000" stroke-width="1.3"/>
<rect x="220.5" y="358" width="16.5" height="40.19999999999999" fill="#000"/>
<circle cx="119.4" cy="325.4" r="1.35" fill="#000"/>
<circle cx="228.8" cy="349.6" r="1.35" fill="#000"/>
<text x="0" y="0" font-size="10.9" text-anchor="start" font-weight="normal" fill="#000" transform="translate(50.0,409.6) rotate(44)">Control</text>
<text x="0" y="0" font-size="10.9" text-anchor="start" font-weight="normal" fill="#000" transform="translate(74.3,409.6) rotate(44)">NA</text>
<text x="0" y="0" font-size="10.9" text-anchor="start" font-weight="normal" fill="#000" transform="translate(96.0,409.6) rotate(44)">HDL</text>
<text x="0" y="0" font-size="10.9" text-anchor="start" font-weight="normal" fill="#000" transform="translate(118.9,409.6) rotate(44)">OxHDL</text>
<text x="0" y="0" font-size="10.9" text-anchor="start" font-weight="normal" fill="#000" transform="translate(155.8,409.6) rotate(44)">Control</text>
<text x="0" y="0" font-size="10.9" text-anchor="start" font-weight="normal" fill="#000" transform="translate(181.2,409.6) rotate(44)">NA</text>
<text x="0" y="0" font-size="10.9" text-anchor="start" font-weight="normal" fill="#000" transform="translate(203.4,409.6) rotate(44)">HDL</text>
<text x="0" y="0" font-size="10.9" text-anchor="start" font-weight="normal" fill="#000" transform="translate(227.2,409.6) rotate(44)">OxHDL</text>
<line x1="47.4" y1="439.8" x2="139" y2="439.8" stroke="#333" stroke-width="1"/>
<line x1="155" y1="439.8" x2="245.6" y2="439.8" stroke="#333" stroke-width="1"/>
<text x="69.6" y="450" font-size="10.5" text-anchor="start" font-weight="normal" fill="#000" textLength="47.6" lengthAdjust="spacingAndGlyphs" >P-selectin</text>
<text x="172.5" y="450.2" font-size="10.5" text-anchor="start" font-weight="normal" fill="#000" textLength="35.6" lengthAdjust="spacingAndGlyphs" >Integrin</text>
<text x="211" y="450.2" font-size="10.5" text-anchor="start" font-weight="normal" fill="#000" >α</text>
<text x="217.6" y="453.6" font-size="7.0" text-anchor="start" font-weight="normal" fill="#000" textLength="7.8" lengthAdjust="spacingAndGlyphs" >IIb</text>
<text x="225.5" y="450.2" font-size="10.5" text-anchor="start" font-weight="normal" fill="#000" >β</text>
<text x="231.3" y="453.6" font-size="7.6" text-anchor="start" font-weight="normal" fill="#000" >3</text>
<text x="272.9" y="262.6" font-size="17.4" text-anchor="start" font-weight="bold" fill="#000" >D</text>
<text x="295" y="293.25" font-size="13.3" text-anchor="start" font-weight="normal" fill="#000" textLength="56.25" lengthAdjust="spacingAndGlyphs" >Thrombin</text>
<line x1="322.8" y1="298.5" x2="322.8" y2="330" stroke="#000" stroke-width="1.2"/>
<polygon points="322.8,340.9 317.0,323.9 322.8,328.5 328.6,323.9" fill="#000" />
<polyline points="300.7,361.4 294.1,361.4 294.1,394.7 300.7,394.7" fill="none" stroke="#000" stroke-width="1.2" stroke-linejoin="round" stroke-linecap="round" stroke-linecap="butt" stroke-linejoin="miter"/>
<text x="0" y="0" font-size="13.4" text-anchor="middle" font-weight="normal" fill="#000" textLength="73.7" lengthAdjust="spacingAndGlyphs" transform="translate(286.3,376.7) rotate(-90)">200 nM ATP</text>
<path d="M307.5,394.6 C308.6,394.7 311.8,394.8 314.0,394.9 C316.2,395.0 319.8,395.3 320.9,395.4" fill="none" stroke="#000" stroke-width="1.3" stroke-linejoin="round" stroke-linecap="round"/>
<polyline points="320.9,395.4 322.3,396.0 322.8,403.5 324.1,405.4 325.4,404.8" fill="none" stroke="#000" stroke-width="1.3" stroke-linejoin="round" stroke-linecap="round" />
<path d="M325.4,404.8 C325.6,402.8 326.1,397.1 326.7,393.0 C327.2,388.9 328.0,384.3 328.7,380.0 C329.4,375.7 330.0,371.1 330.7,367.0 C331.4,362.9 332.0,358.7 332.6,355.2 C333.2,351.7 334.0,349.1 334.6,346.1 C335.2,343.1 335.9,339.7 336.5,337.0 C337.1,334.3 337.8,332.1 338.5,329.8 C339.2,327.6 339.8,325.5 340.5,323.5 C341.2,321.5 341.9,320.6 343.0,318.0 C344.1,315.4 345.8,310.2 347.3,307.7 C348.8,305.2 350.1,304.2 351.9,303.1 C353.7,302.0 356.1,301.2 358.1,300.8 C360.2,300.4 362.1,300.4 364.2,300.5 C366.2,300.6 368.3,301.1 370.4,301.5 C372.4,301.9 373.9,302.6 376.5,303.1 C379.1,303.6 382.7,304.1 385.8,304.6 C388.9,305.1 391.5,305.7 395.0,306.2 C398.5,306.7 402.7,307.0 406.9,307.8 C411.1,308.6 415.5,309.8 420.0,310.8 C424.5,311.8 428.8,312.8 433.8,313.9 C438.8,315.0 444.6,316.1 450.0,317.2 C455.4,318.3 463.5,319.9 466.2,320.5" fill="none" stroke="#000" stroke-width="1.3" stroke-linejoin="round" stroke-linecap="round"/>
<path d="M325.4,404.8 C325.6,402.8 326.1,397.1 326.7,393.0 C327.2,388.9 328.0,384.3 328.7,380.0 C329.4,375.7 330.0,371.1 330.7,367.0 C331.4,362.9 332.0,358.7 332.6,355.2 C333.2,351.7 334.0,349.1 334.6,346.1 C335.2,343.1 335.9,339.7 336.5,337.0 C337.1,334.3 338.0,331.5 338.5,329.8 C339.0,328.1 339.0,328.0 339.6,327.0 C340.2,326.0 341.0,325.4 341.9,323.8 C342.8,322.2 343.9,319.5 345.0,317.7 C346.1,315.9 347.4,314.4 348.8,313.1 C350.2,311.8 351.7,310.7 353.5,310.0 C355.3,309.3 357.3,309.1 359.6,308.8 C361.9,308.6 364.5,308.4 367.3,308.5 C370.1,308.6 373.4,308.9 376.5,309.2 C379.6,309.4 382.7,309.7 385.8,310.0 C388.9,310.3 391.5,310.6 395.0,311.2 C398.5,311.8 403.4,312.9 406.9,313.6 C410.4,314.3 413.8,314.7 416.0,315.2 C418.2,315.7 417.0,315.7 420.0,316.4 C423.0,317.1 428.8,318.2 433.8,319.2 C438.8,320.2 444.6,321.2 450.0,322.2 C455.4,323.2 463.5,324.7 466.2,325.2" fill="none" stroke="#000" stroke-width="1.3" stroke-linejoin="round" stroke-linecap="round"/>
<path d="M325.4,404.8 C325.8,404.5 326.7,403.9 327.5,403.0 C328.3,402.1 328.9,401.3 330.0,399.6 C331.1,397.9 332.6,394.8 333.9,393.0 C335.2,391.2 336.3,390.4 337.8,389.1 C339.3,387.8 341.0,386.4 343.0,385.2 C345.0,384.0 347.6,382.9 349.6,382.0 C351.6,381.1 353.1,380.6 354.8,380.0 C356.5,379.4 357.5,379.1 360.0,378.7 C362.5,378.3 365.8,378.1 370.0,377.8 C374.2,377.5 378.9,377.0 385.0,376.8 C391.1,376.6 398.8,376.6 406.9,376.7 C415.0,376.8 424.4,377.0 433.8,377.4 C443.2,377.8 458.6,378.6 463.5,378.9" fill="none" stroke="#000" stroke-width="1.3" stroke-linejoin="round" stroke-linecap="round"/>
<text x="470.2" y="321" font-size="13" text-anchor="start" font-weight="normal" fill="#000" textLength="17.5" lengthAdjust="spacingAndGlyphs" >NA</text>
<text x="470.2" y="335.8" font-size="13" text-anchor="start" font-weight="normal" fill="#000" textLength="25.6" lengthAdjust="spacingAndGlyphs" >HDL</text>
<text x="470.2" y="384.2" font-size="13.3" text-anchor="start" font-weight="normal" fill="#000" textLength="43.6" lengthAdjust="spacingAndGlyphs" >OxHDL</text>
<text x="334.6" y="425.9" font-size="13" text-anchor="start" font-weight="normal" fill="#000" textLength="31.2" lengthAdjust="spacingAndGlyphs" >1 min</text>
<line x1="330.5" y1="430.2" x2="371" y2="430.2" stroke="#000" stroke-width="1.2"/>
<text x="-0.1" y="483.9" font-size="17.2" text-anchor="start" font-weight="bold" fill="#000" >E</text>
<line x1="53" y1="505.2" x2="53" y2="648.8" stroke="#222" stroke-width="1.1"/>
<line x1="53" y1="648.4" x2="57.4" y2="648.4" stroke="#222" stroke-width="1.1"/>
<line x1="53" y1="612.65" x2="57.4" y2="612.65" stroke="#222" stroke-width="1.1"/>
<line x1="53" y1="576.9" x2="57.4" y2="576.9" stroke="#222" stroke-width="1.1"/>
<line x1="53" y1="541.15" x2="57.4" y2="541.15" stroke="#222" stroke-width="1.1"/>
<line x1="53" y1="505.4" x2="57.4" y2="505.4" stroke="#222" stroke-width="1.1"/>
<text x="48.1" y="512.9" font-size="13.7" text-anchor="end" font-weight="normal" fill="#000" >800</text>
<text x="48.1" y="544.9" font-size="13.7" text-anchor="end" font-weight="normal" fill="#000" >600</text>
<text x="48.1" y="581.1999999999999" font-size="13.7" text-anchor="end" font-weight="normal" fill="#000" >400</text>
<text x="48.1" y="617.1999999999999" font-size="13.7" text-anchor="end" font-weight="normal" fill="#000" >200</text>
<text x="48.1" y="651.1" font-size="13.7" text-anchor="end" font-weight="normal" fill="#000" >0</text>
<text x="0" y="0" font-size="13.3" text-anchor="middle" font-weight="normal" fill="#000" textLength="104.7" lengthAdjust="spacingAndGlyphs" transform="translate(15.4,572.7) rotate(-90)">ATP release (nM)</text>
<line x1="76.8" y1="518.2" x2="76.8" y2="537.6" stroke="#000" stroke-width="1.2"/>
<line x1="72.2" y1="518.2" x2="81.39999999999999" y2="518.2" stroke="#000" stroke-width="1.3"/>
<rect x="65.8" y="537.6" width="22.0" height="111.0" fill="#000"/>
<line x1="106.0" y1="529.7" x2="106.0" y2="542.8" stroke="#000" stroke-width="1.2"/>
<line x1="101.4" y1="529.7" x2="110.6" y2="529.7" stroke="#000" stroke-width="1.3"/>
<rect x="95" y="542.8" width="22" height="105.80000000000007" fill="#000"/>
<line x1="135.75" y1="619.3" x2="135.75" y2="629.4" stroke="#000" stroke-width="1.2"/>
<line x1="131.15" y1="619.3" x2="140.35" y2="619.3" stroke="#000" stroke-width="1.3"/>
<rect x="124.9" y="629.4" width="21.69999999999999" height="19.200000000000045" fill="#000"/>
<polygon points="134.6,608.1 135.2,609.5 136.8,609.7 135.6,610.7 136.0,612.3 134.6,611.5 133.2,612.3 133.6,610.7 132.4,609.7 134.0,609.5" fill="#000" />
<text x="0" y="0" font-size="13.8" text-anchor="start" font-weight="normal" fill="#000" transform="translate(70.3,658.3) rotate(46)">NA</text>
<text x="0" y="0" font-size="13.8" text-anchor="start" font-weight="normal" fill="#000" transform="translate(99.5,658.3) rotate(46)">HDL</text>
<text x="0" y="0" font-size="13.8" text-anchor="start" font-weight="normal" fill="#000" transform="translate(129.2,658.3) rotate(46)">OxHDL</text>
</svg></body></html>
